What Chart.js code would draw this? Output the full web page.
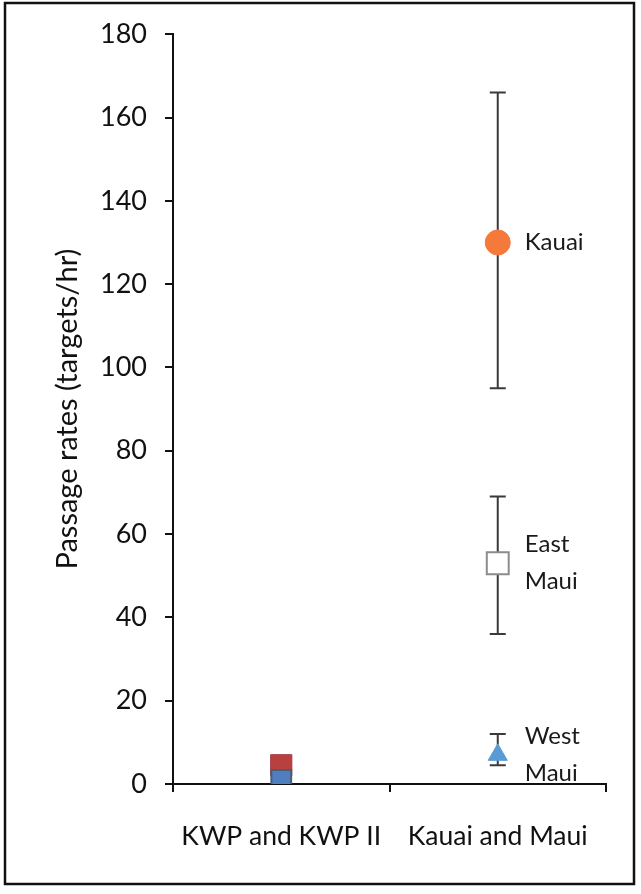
<!DOCTYPE html>
<html>
<head>
<meta charset="utf-8">
<script src="https://cdn.jsdelivr.net/npm/chart.js@4"></script>
<style>
  html, body { margin: 0; padding: 0; background: #fff; }
  #wrap { width: 641px; height: 894px; }
</style>
</head>
<body>
<div id="wrap"><canvas id="passageChart"></canvas></div>
<script>
// passage rates (targets/hr)
var categories = ['KWP and KWP II', 'Kauai and Maui'];
var yTicks = [0, 20, 40, 60, 80, 100, 120, 140, 160, 180];

var siteNames = ['Kauai', 'East Maui', 'West Maui'];
var siteRates = [130, 53, 7];
var siteLow = [95, 36, 4.5];
var siteHigh = [166, 69, 12];

var kwpNames = ['KWP II', 'KWP', 'KWP all'];
var kwpRates = [1, 4.5, 0.2];

var FONT = 'Lato, "Open Sans", sans-serif';

var siteStyles = [
    { pointStyle: 'circle', radius: 12.5, fill: '#F4793B', stroke: '#F4793B', width: 1 },
    { pointStyle: 'rect', radius: 15.5, fill: '#ffffff', stroke: '#8c8c8c', width: 2 },
    { pointStyle: 'triangle', radius: 11, fill: '#5b9bd5', stroke: '#5b9bd5', width: 1 }
];
// drawn top first: blue over red, green hidden underneath
var kwpStyles = [
    { pointStyle: 'rect', radius: 14, fill: '#4f7fc0', stroke: '#4b5d70', width: 2 },
    { pointStyle: 'rect', radius: 15, fill: '#b8403f', stroke: '#a83a48', width: 1 },
    { pointStyle: 'triangle', radius: 9, fill: '#9bbb59', stroke: '#9bbb59', width: 1 }
];

function makeSet(name, value, catIndex, st) {
    var d = [null, null];
    d[catIndex] = value;
    return {
        label: name,
        data: d,
        showLine: false,
        pointStyle: st.pointStyle,
        pointRadius: st.radius,
        pointHoverRadius: st.radius,
        pointBackgroundColor: st.fill,
        pointBorderColor: st.stroke,
        pointBorderWidth: st.width
    };
}

var datasets = [];
for (var i = 0; i < siteNames.length; i++) {
    datasets.push(makeSet(siteNames[i], siteRates[i], 1, siteStyles[i]));
}
for (var j = 0; j < kwpNames.length; j++) {
    datasets.push(makeSet(kwpNames[j], kwpRates[j], 0, kwpStyles[j]));
}

// frame round the whole figure
var framePlugin = {
    id: 'frame',
    beforeDraw: function(chart) {
        var ctx = chart.ctx;
        ctx.save();
        ctx.fillStyle = '#fff';
        ctx.fillRect(0, 0, chart.width, chart.height);
        ctx.strokeStyle = '#111';
        ctx.lineWidth = 2.5;
        ctx.strokeRect(5, 3, 629, 881);
        ctx.restore();
    }
};

// error bars for the site means
var errorBars = {
    id: 'errorBars',
    beforeDatasetsDraw: function(chart) {
        var ctx = chart.ctx;
        var xs = chart.scales.x, ys = chart.scales.y;
        var x = xs.getPixelForValue(1);
        ctx.save();
        ctx.strokeStyle = '#3a3a3a';
        ctx.lineWidth = 2;
        for (var k = 0; k < siteNames.length; k++) {
            var yl = ys.getPixelForValue(siteLow[k]);
            var yh = ys.getPixelForValue(siteHigh[k]);
            ctx.beginPath();
            ctx.moveTo(x, yl); ctx.lineTo(x, yh);
            ctx.moveTo(x - 8, yl); ctx.lineTo(x + 8, yl);
            ctx.moveTo(x - 8, yh); ctx.lineTo(x + 8, yh);
            ctx.stroke();
        }
        ctx.restore();
    }
};

// site names next to the markers
var siteLabels = {
    id: 'siteLabels',
    afterDatasetsDraw: function(chart) {
        var ctx = chart.ctx;
        var xs = chart.scales.x, ys = chart.scales.y;
        var x = xs.getPixelForValue(1) + 27;
        ctx.save();
        ctx.fillStyle = '#1a1a1a';
        ctx.font = '24px ' + FONT;
        ctx.textAlign = 'left';
        ctx.textBaseline = 'middle';
        for (var k = 0; k < siteNames.length; k++) {
            var lines = siteNames[k].split(' ');
            var y = ys.getPixelForValue(siteRates[k]);
            var lh = 37;
            var y0 = y - (lines.length - 1) * lh / 2;
            for (var m = 0; m < lines.length; m++) {
                ctx.fillText(lines[m], x, y0 + m * lh);
            }
        }
        ctx.restore();
    }
};

Chart.defaults.font.family = FONT;
Chart.defaults.color = '#111';

new Chart(document.getElementById('passageChart'), {
    type: 'line',
    data: { labels: categories, datasets: datasets },
    options: {
        responsive: true,
        maintainAspectRatio: false,
        animation: false,
        layout: { padding: { top: 34, right: 35, left: 0, bottom: 0 } },
        plugins: {
            legend: { display: false },
            tooltip: { enabled: false }
        },
        scales: {
            x: {
                type: 'category',
                offset: true,
                grid: {
                    offset: true,
                    drawOnChartArea: false,
                    color: '#111',
                    tickLength: 8,
                    lineWidth: 2
                },
                border: { color: '#111', width: 2 },
                ticks: { font: { size: 26.5 }, padding: 29, color: '#111', maxRotation: 0 },
                afterFit: function(scale) { scale.height = 110; }
            },
            y: {
                min: 0,
                max: 180,
                afterBuildTicks: function(scale) {
                    scale.ticks = yTicks.map(function(v) { return { value: v }; });
                },
                grid: {
                    drawOnChartArea: false,
                    color: '#111',
                    tickLength: 8,
                    lineWidth: 2
                },
                border: { color: '#111', width: 2 },
                ticks: { font: { size: 27 }, padding: 18, color: '#111' },
                title: {
                    display: true,
                    text: 'Passage rates (targets/hr)',
                    font: { size: 29 },
                    color: '#111',
                    padding: { top: 50, bottom: 0 }
                },
                afterFit: function(scale) { scale.width = 173; }
            }
        }
    },
    plugins: [framePlugin, errorBars, siteLabels]
});
</script>
</body>
</html>
